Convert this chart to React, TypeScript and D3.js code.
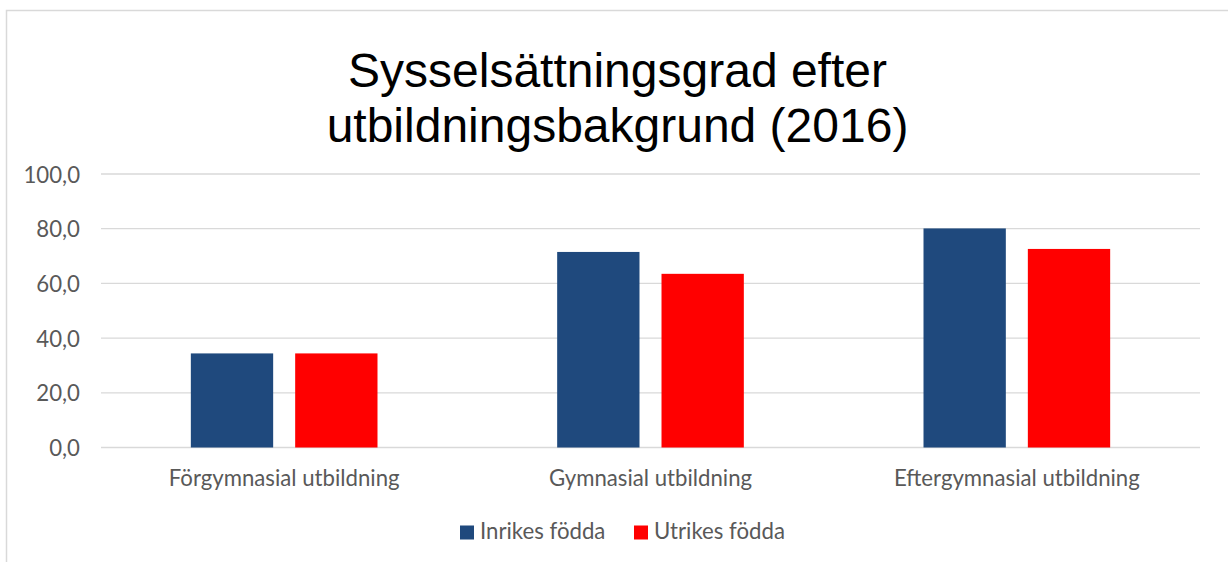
import * as d3 from "d3";

const categories = [
  "Förgymnasial utbildning",
  "Gymnasial utbildning",
  "Eftergymnasial utbildning",
];
const seriesNames = ["Inrikes födda", "Utrikes födda"];
const inrikes = [34.4, 71.5, 80.1];
const utrikes = [34.4, 63.5, 72.6];
const yTicks = [0, 20, 40, 60, 80, 100];
const titleLines = ["Sysselsättningsgrad efter", "utbildningsbakgrund (2016)"];

const colors = ["#1f497d", "#ff0000"];

export default function App() {
  const width = 1228;
  const height = 562;
  const plot = { left: 101, right: 1200, top: 174, bottom: 447.5 };

  const x0 = d3
    .scaleBand()
    .domain(categories)
    .range([plot.left, plot.right])
    .padding(0);

  // Excel-ish gap width / overlap
  const x1 = d3
    .scaleBand()
    .domain(seriesNames)
    .range([0, x0.bandwidth()])
    .paddingInner(0.211)
    .paddingOuter(0.861);

  const y = d3.scaleLinear().domain([0, 100]).range([plot.bottom, plot.top]);

  const fmt = (v: number) => d3.format(".1f")(v).replace(".", ",");

  const series = [inrikes, utrikes];
  const labelFont = "Lato, 'Noto Sans', sans-serif";
  const labelSize = 22.2;

  return (
    <svg
      width={width}
      height={height}
      style={{ position: "absolute", left: 0, top: 0, background: "#fff" }}
    >
      {/* ram */}
      <rect
        x={6.5}
        y={10.5}
        width={1240}
        height={600}
        fill="#fff"
        stroke="#d9d9d9"
        strokeWidth={1.5}
      />
      {/* titel */}
      <text
        x={617.5}
        textAnchor="middle"
        fontFamily="'Liberation Sans', Arial, sans-serif"
        fontSize={48}
        fill="#000"
      >
        {titleLines.map((t, i) => (
          <tspan key={i} x={617.5} y={87 + i * 55}>
            {t}
          </tspan>
        ))}
      </text>
      {/* rutnät */}
      <g>
        {yTicks.map((t) => (
          <g key={t}>
            <line
              x1={plot.left}
              x2={plot.right}
              y1={y(t)}
              y2={y(t)}
              stroke="#d9d9d9"
              strokeWidth={1.3}
            />
            <text
              x={80}
              y={y(t)}
              textAnchor="end"
              dominantBaseline="central"
              fontFamily={labelFont}
              fontSize={labelSize}
              fill="#595959"
            >
              {fmt(t)}
            </text>
          </g>
        ))}
      </g>
      {/* staplar */}
      <g>
        {categories.map((c, ci) => (
          <g key={c} transform={`translate(${x0(c)},0)`}>
            {seriesNames.map((s, si) => (
              <rect
                key={s}
                x={x1(s)}
                y={y(series[si][ci])}
                width={x1.bandwidth()}
                height={y(0) - y(series[si][ci])}
                fill={colors[si]}
              />
            ))}
          </g>
        ))}
      </g>
      {/* kategorier */}
      <g>
        {categories.map((c) => (
          <text
            key={c}
            x={(x0(c) as number) + x0.bandwidth() / 2}
            y={485.5}
            textAnchor="middle"
            fontFamily={labelFont}
            fontSize={labelSize}
            fill="#595959"
          >
            {c}
          </text>
        ))}
      </g>
      {/* förklaring */}
      <g>
        {seriesNames.map((s, i) => {
          const lx = [460, 634][i];
          return (
            <g key={s}>
              <rect x={lx} y={525.5} width={14} height={14} fill={colors[i]} />
              <text
                x={lx + 20}
                y={538.5}
                fontFamily={labelFont}
                fontSize={labelSize}
                fill="#595959"
              >
                {s}
              </text>
            </g>
          );
        })}
      </g>
    </svg>
  );
}
